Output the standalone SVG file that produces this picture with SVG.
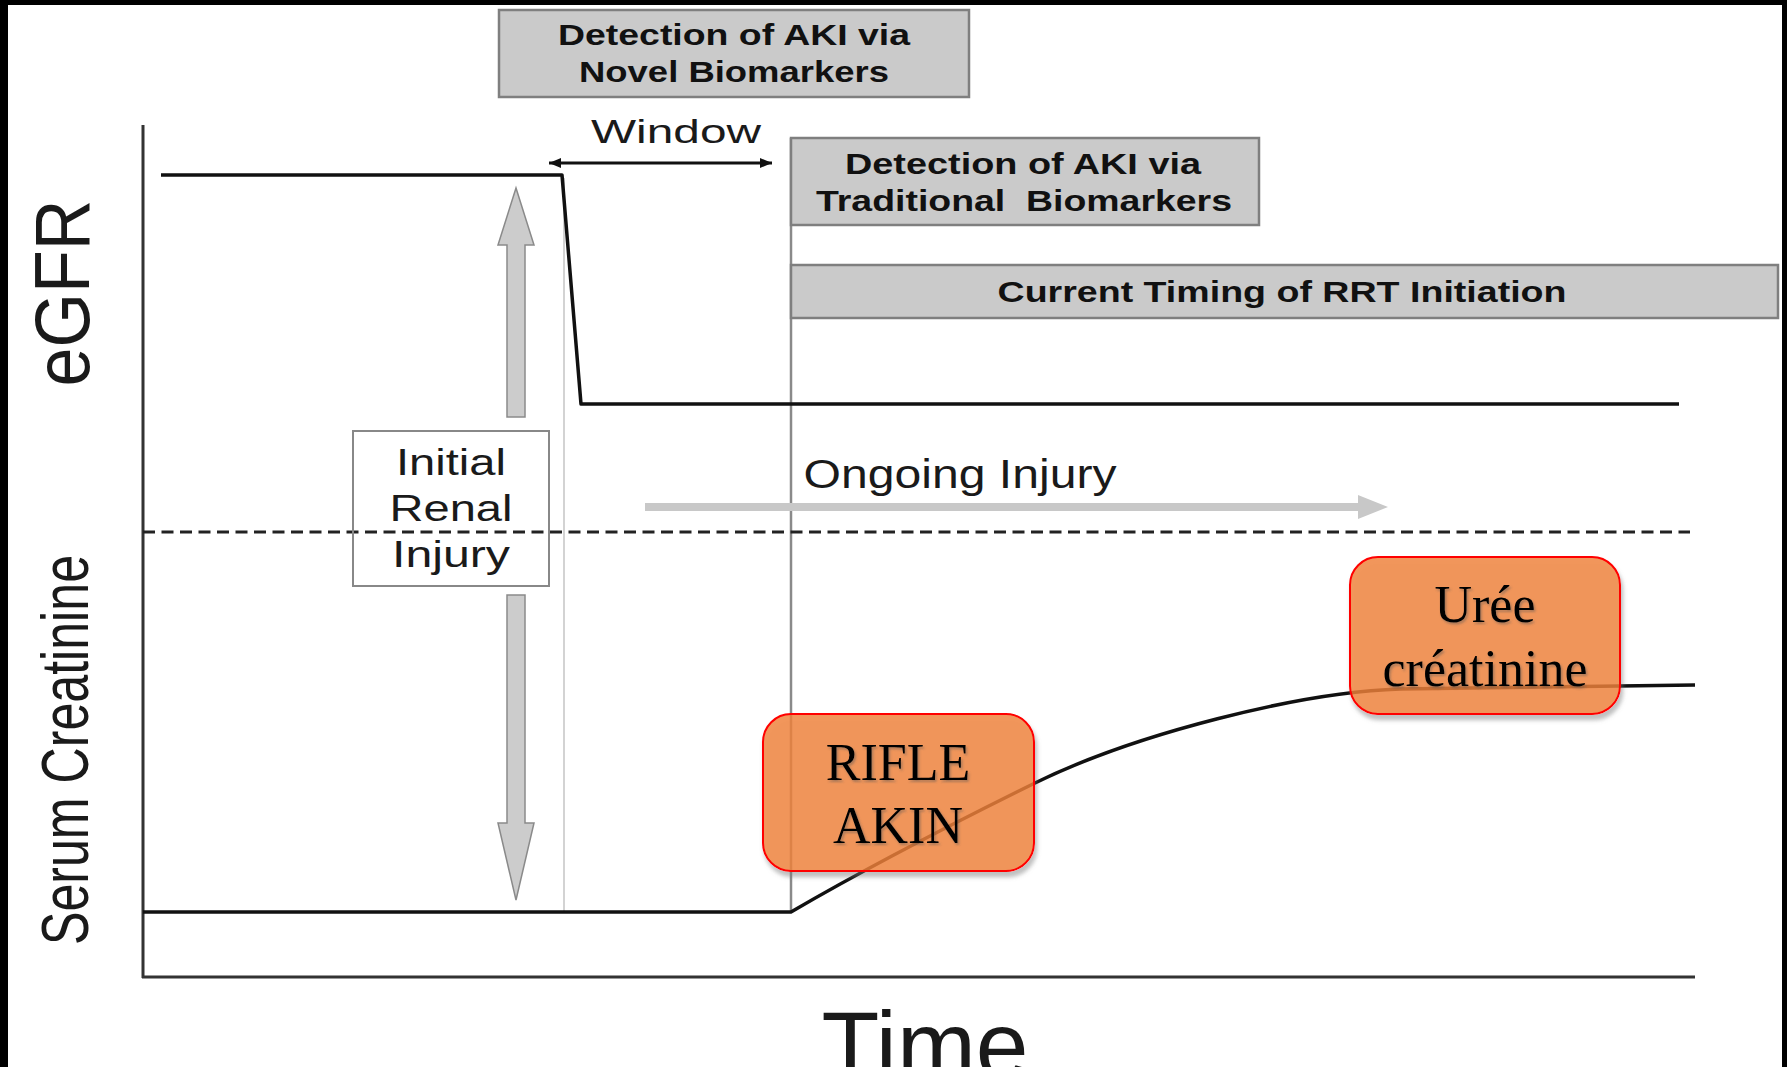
<svg xmlns="http://www.w3.org/2000/svg" width="1787" height="1067" viewBox="0 0 1787 1067">
<defs>
<style>
.gbox{fill:#CACACA;stroke:#7F7F7F;stroke-width:2.5}
.bt{font-family:"Liberation Sans",Arial,sans-serif;font-weight:bold;font-size:29px;fill:#111;text-anchor:middle}
.lbl{font-family:"Liberation Sans",Arial,sans-serif;fill:#1a1a1a;text-anchor:middle}
.obox{fill:#EF8038;fill-opacity:0.82;stroke:#FF0000;stroke-width:2}
.ot{font-family:"Liberation Serif","Times New Roman",serif;font-size:52px;fill:#000;text-anchor:middle}
.curve{fill:none;stroke:#111;stroke-width:3.5;stroke-linejoin:round}
.garrow{fill:#CCCCCC;stroke:#8A8A8A;stroke-width:1.5}
</style>
<filter id="sh" x="-10%" y="-10%" width="130%" height="130%">
<feGaussianBlur in="SourceAlpha" stdDeviation="2" result="b"/>
<feOffset in="b" dx="2" dy="5" result="o"/>
<feComposite in="o" in2="SourceAlpha" operator="out" result="oo"/>
<feFlood flood-color="#777" flood-opacity="0.55"/>
<feComposite in2="oo" operator="in" result="s"/>
<feMerge><feMergeNode in="s"/><feMergeNode in="SourceGraphic"/></feMerge>
</filter>
<filter id="tsh" x="-10%" y="-10%" width="130%" height="130%">
<feDropShadow dx="1.5" dy="2" stdDeviation="1" flood-color="#555" flood-opacity="0.45"/>
</filter>
<marker id="ah" viewBox="0 0 12 10" refX="12" refY="5" markerUnits="userSpaceOnUse" markerWidth="13" markerHeight="10" orient="auto-start-reverse">
<path d="M0,0 L12,5 L0,10 z" fill="#111"/>
</marker>
</defs>

<rect x="0" y="0" width="1787" height="1067" fill="#000"/>
<rect x="8" y="5" width="1774" height="1062" fill="#fff"/>

<g id="axes" stroke="#333" stroke-width="3" fill="none">
<line x1="143" y1="125" x2="143" y2="978"/>
<line x1="142" y1="977" x2="1695" y2="977"/>
</g>

<g id="axis-labels" class="lbl">
<text transform="translate(89,293) rotate(-90)" font-size="77" textLength="187" lengthAdjust="spacingAndGlyphs">eGFR</text>
<text transform="translate(88,750) rotate(-90)" font-size="67" textLength="390" lengthAdjust="spacingAndGlyphs">Serum Creatinine</text>
<text x="925" y="1078" font-size="95" textLength="207" lengthAdjust="spacingAndGlyphs">Time</text>
</g>

<g id="connectors">
<line x1="564" y1="178" x2="564" y2="912" stroke="#C4C4C4" stroke-width="1.5"/>
<line x1="791" y1="138" x2="791" y2="913" stroke="#8A8A8A" stroke-width="2.5"/>
<line x1="143" y1="532" x2="1690" y2="532" stroke="#222" stroke-width="3" stroke-dasharray="12 6.5"/>
<polyline class="curve" points="161,175 562,175 581,404 1679,404"/>
<path class="curve" d="M143,912 L791,912 C870,866 960,820 1035,783 C1135,734 1300,692 1400,689 L1695,685"/>
<line x1="549" y1="163" x2="772" y2="163" stroke="#111" stroke-width="3" marker-start="url(#ah)" marker-end="url(#ah)"/>
<polygon points="645,503 1358,503 1358,495 1388,507 1358,519 1358,511 645,511" fill="#C8C8C8"/>
<polygon class="garrow" points="516,188 534,245 525,245 525,417 507,417 507,245 498,245"/>
<polygon class="garrow" points="507,595 525,595 525,823 534,823 516,900 498,823 507,823"/>
</g>

<g id="node-novel">
<rect class="gbox" x="499" y="10" width="470" height="87"/>
<text class="bt" x="734" y="45" textLength="352" lengthAdjust="spacingAndGlyphs">Detection of AKI via</text>
<text class="bt" x="734" y="82" textLength="310" lengthAdjust="spacingAndGlyphs">Novel Biomarkers</text>
</g>

<g id="node-traditional">
<rect class="gbox" x="791" y="138" width="468" height="87"/>
<text class="bt" x="1023" y="174" textLength="356" lengthAdjust="spacingAndGlyphs">Detection of AKI via</text>
<text class="bt" x="1024" y="211" xml:space="preserve" textLength="416" lengthAdjust="spacingAndGlyphs">Traditional  Biomarkers</text>
</g>

<g id="node-rrt">
<rect class="gbox" x="791" y="265" width="987" height="53"/>
<text class="bt" x="1282" y="302" textLength="569" lengthAdjust="spacingAndGlyphs">Current Timing of RRT Initiation</text>
</g>

<g id="label-window">
<text class="lbl" x="676" y="143" font-size="34" textLength="170" lengthAdjust="spacingAndGlyphs">Window</text>
</g>

<g id="label-ongoing">
<text class="lbl" x="960" y="488" font-size="40" textLength="313" lengthAdjust="spacingAndGlyphs">Ongoing Injury</text>
</g>

<g id="node-initial">
<rect x="353" y="431" width="196" height="155" fill="none" stroke="#888" stroke-width="2"/>
<text class="lbl" x="451" y="475" font-size="36" textLength="110" lengthAdjust="spacingAndGlyphs">Initial</text>
<text class="lbl" x="451" y="521" font-size="36" textLength="123" lengthAdjust="spacingAndGlyphs">Renal</text>
<text class="lbl" x="451" y="567" font-size="36" textLength="118" lengthAdjust="spacingAndGlyphs">Injury</text>
</g>

<g id="node-rifle">
<rect class="obox" x="763" y="714" width="271" height="157" rx="28" filter="url(#sh)"/>
<text class="ot" x="898" y="780" filter="url(#tsh)">RIFLE</text>
<text class="ot" x="898" y="843" filter="url(#tsh)">AKIN</text>
</g>

<g id="node-uree">
<rect class="obox" x="1350" y="557" width="270" height="157" rx="28" filter="url(#sh)"/>
<text class="ot" x="1485" y="622" filter="url(#tsh)">Urée</text>
<text class="ot" x="1485" y="686" filter="url(#tsh)">créatinine</text>
</g>
</svg>
